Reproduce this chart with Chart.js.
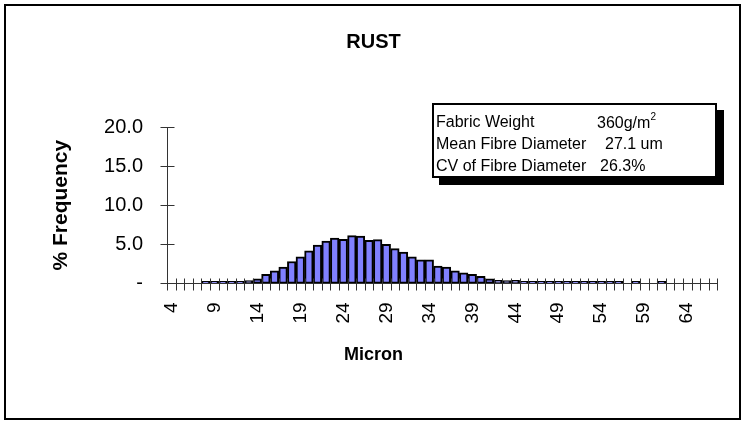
<!DOCTYPE html>
<html>
<head>
<meta charset="utf-8">
<script src="https://cdn.jsdelivr.net/npm/chart.js@4"></script>
<style>
  html, body { margin: 0; padding: 0; background: #fff; }
  #wrap { position: relative; width: 747px; height: 423px; font-family: 'Liberation Sans', Arial, sans-serif; }
  #frame { position: absolute; left: 4px; top: 4px; width: 733px; height: 412px; border: 2px solid #000; pointer-events: none; }
  #info { position: absolute; left: 432px; top: 103px; width: 281px; height: 71px; border: 2px solid #000; background: #fff; box-shadow: 7px 7px 0 #000; font-size: 16px; color: #000; }
  #info span { position: absolute; white-space: nowrap; line-height: 1; }
  #info sup { font-size: 10px; position: relative; top: -2px; }
</style>
</head>
<body>
<div id="wrap">
  <canvas id="chart" width="747" height="423"></canvas>
  <div id="frame"></div>
  <div id="info">
    <span style="left:2px; top:8.5px">Fabric Weight</span>
    <span style="left:163px; top:8.5px">360g/m<sup>2</sup></span>
    <span style="left:2px; top:30.5px">Mean Fibre Diameter</span>
    <span style="left:171px; top:30.5px">27.1 um</span>
    <span style="left:2px; top:53px">CV of Fibre Diameter</span>
    <span style="left:166px; top:53px">26.3%</span>
  </div>
</div>
<script>
const FONT = "'Liberation Sans', Arial, sans-serif";

// fibre diameter classes (micron)
const microns = [
    4, 5, 6, 7, 8, 9, 10, 11,
    12, 13, 14, 15, 16, 17, 18, 19,
    20, 21, 22, 23, 24, 25, 26, 27,
    28, 29, 30, 31, 32, 33, 34, 35,
    36, 37, 38, 39, 40, 41, 42, 43,
    44, 45, 46, 47, 48, 49, 50, 51,
    52, 53, 54, 55, 56, 57, 58, 59,
    60, 61, 62, 63, 64, 65, 66, 67
];

// % frequency per class (null = empty class, no bar drawn)
const frequency = [
    null, null, null, null, 0.02, 0.04, 0.05, 0.08,
    0.15, 0.35, 0.6, 1.15, 1.6, 2.1, 2.8, 3.4,
    4.15, 4.9, 5.4, 5.8, 5.65, 6.1, 6.05, 5.5,
    5.6, 5.0, 4.45, 4.0, 3.4, 3.0, 3.0, 2.2,
    2.1, 1.6, 1.35, 1.15, 0.9, 0.6, 0.4, 0.35,
    0.4, 0.25, 0.2, 0.18, 0.15, 0.12, 0.1, 0.1,
    0.08, 0.08, 0.06, 0.05, 0.05, null, 0.03, null,
    null, 0.03, null, null, null, null, null, null
];

const xTickLabels = ['4', '9', '14', '19', '24', '29', '34', '39', '44', '49', '54', '59', '64'];
const yTickValues = [0, 5, 10, 15, 20];
const yTickLabels = ['-', '5.0', '10.0', '15.0', '20.0'];

// Excel style axes: tick marks crossing the axis lines
const crossAxes = {
    id: 'crossAxes',
    afterDatasetsDraw(chart) {
        const { ctx, chartArea, scales: { x, y } } = chart;
        const y0 = Math.round(y.getPixelForValue(0)) + 0.5;
        const x0 = Math.round(chartArea.left) + 0.5;
        const n = x.ticks.length;
        const step = (x.right - x.left) / n;
        ctx.save();
        ctx.strokeStyle = '#333';
        ctx.lineWidth = 1;
        ctx.beginPath();
        ctx.moveTo(chartArea.left, y0);
        ctx.lineTo(chartArea.right, y0);
        for (let i = 0; i <= n; i++) {
            const px = Math.round(x.left + i * step) + 0.5;
            ctx.moveTo(px, y0 - 5);
            ctx.lineTo(px, y0 + 7);
        }
        ctx.moveTo(x0, y.top);
        ctx.lineTo(x0, y0);
        y.ticks.forEach(t => {
            const py = Math.round(y.getPixelForValue(t.value)) + 0.5;
            ctx.moveTo(x0 - 7, py);
            ctx.lineTo(x0 + 7, py);
        });
        ctx.stroke();
        ctx.restore();
    }
};

Chart.defaults.font.family = FONT;
Chart.defaults.color = '#000';

new Chart(document.getElementById('chart'), {
    type: 'bar',
    data: {
        labels: microns,
        datasets: [{
            data: frequency,
            backgroundColor: '#8080ff',
            borderColor: '#000',
            borderWidth: 2,
            borderSkipped: false,
            minBarLength: 2,
            barPercentage: 1,
            categoryPercentage: 1
        }]
    },
    options: {
        responsive: false,
        animation: false,
        devicePixelRatio: 1,
        events: [],
        layout: { padding: { left: 19, right: 19, top: 0, bottom: 0 } },
        scales: {
            x: {
                grid: { display: false },
                border: { display: false },
                ticks: {
                    autoSkip: false,
                    minRotation: 90,
                    maxRotation: 90,
                    padding: 11,
                    font: { size: 19 },
                    callback: function (value, index) {
                        const lbl = String(microns[index]);
                        return xTickLabels.includes(lbl) ? lbl : '';
                    }
                },
                afterFit: s => { s.height = 61; }
            },
            y: {
                min: 0,
                max: 20,
                grid: { display: false },
                border: { display: false },
                ticks: {
                    stepSize: 5,
                    padding: 16,
                    font: { size: 20 },
                    callback: v => yTickLabels[yTickValues.indexOf(v)]
                },
                title: {
                    display: true,
                    text: '% Frequency',
                    font: { size: 21, weight: 'bold' },
                    padding: { top: 30, bottom: 0 }
                },
                afterFit: s => { s.width = 148; }
            }
        },
        plugins: {
            legend: { display: false },
            tooltip: { enabled: false },
            title: {
                display: true,
                text: 'RUST',
                font: { size: 20, weight: 'bold' },
                padding: { top: 30, bottom: 73 }
            },
            subtitle: {
                display: true,
                position: 'bottom',
                text: 'Micron',
                font: { size: 18, weight: 'bold' },
                padding: { top: 0, bottom: 57 }
            }
        }
    },
    plugins: [crossAxes]
});
</script>
</body>
</html>
